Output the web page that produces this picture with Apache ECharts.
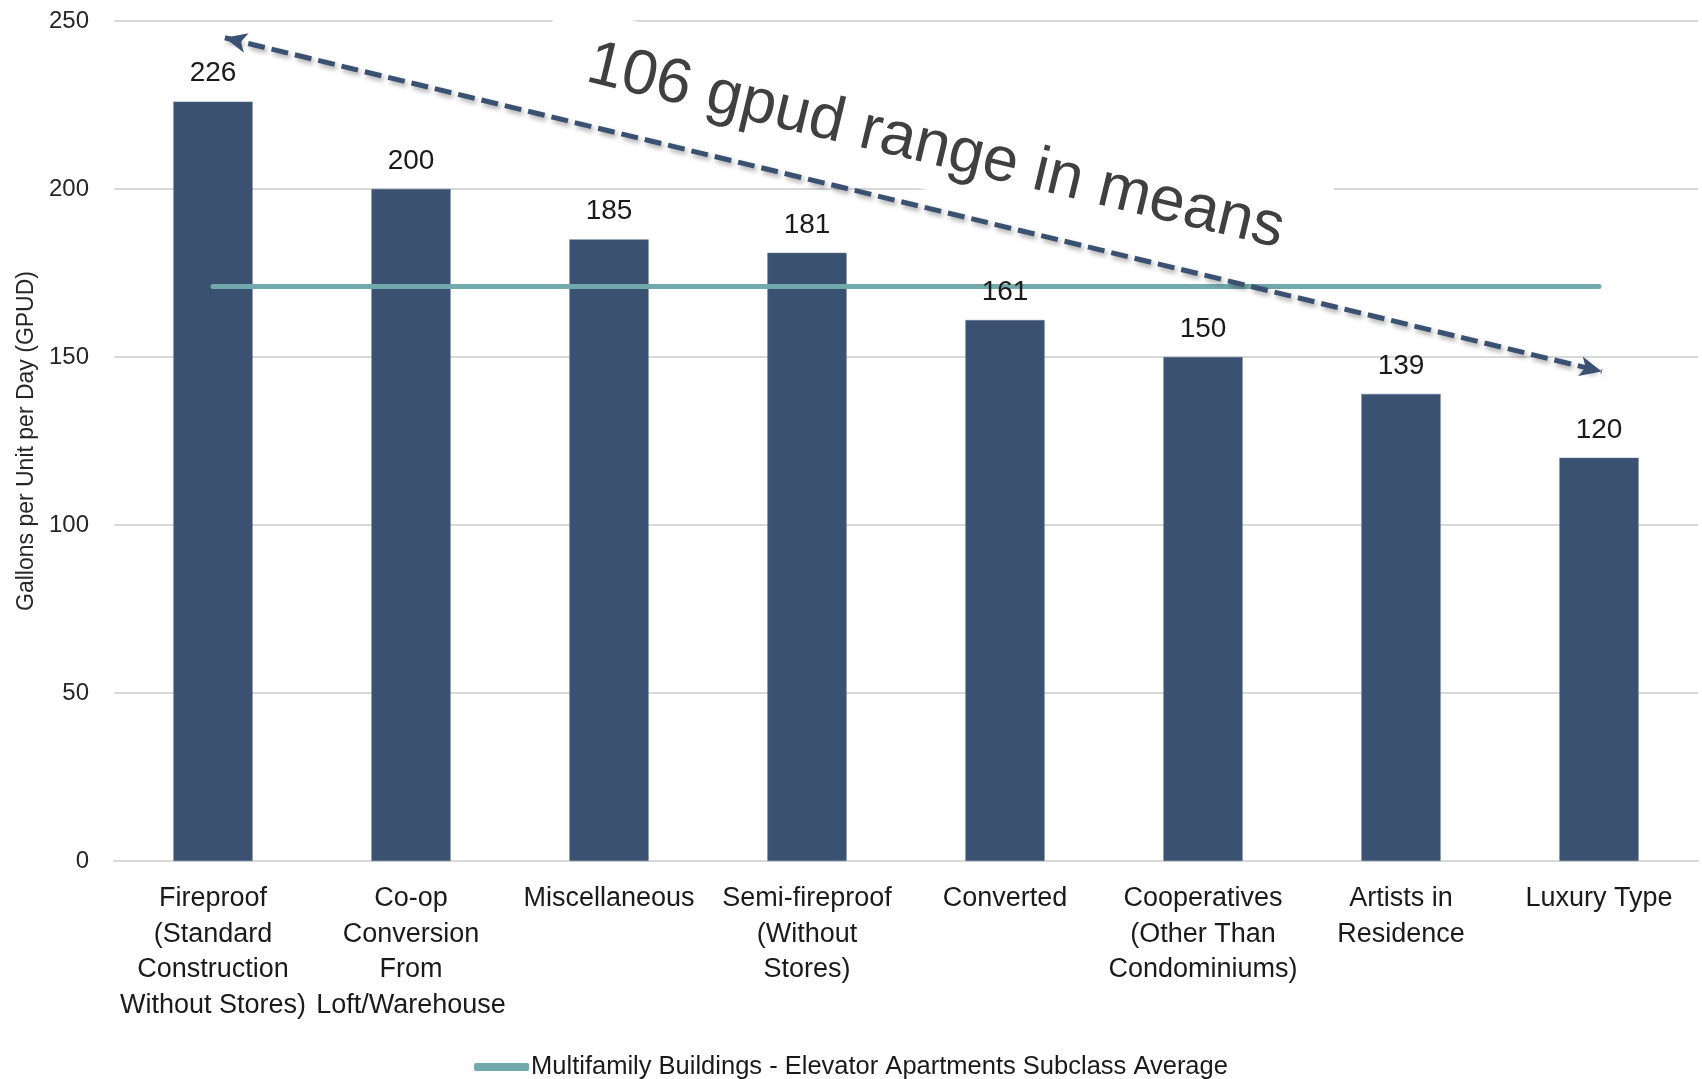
<!DOCTYPE html>
<html>
<head>
<meta charset="utf-8">
<title>Gallons per Unit per Day by Elevator Apartment Type</title>
<script src="https://cdn.jsdelivr.net/npm/echarts@6/dist/echarts.min.js"></script>
<style>
  html, body { margin: 0; padding: 0; background: #ffffff; }
  #chart { width: 1702px; height: 1079px; }
</style>
</head>
<body>
<div id="chart"></div>
<script>
// Building types (tick labels, wrapped as printed)
const categories = [
  'Fireproof\n(Standard\nConstruction\nWithout Stores)',
  'Co-op\nConversion\nFrom\nLoft/Warehouse',
  'Miscellaneous',
  'Semi-fireproof\n(Without\nStores)',
  'Converted',
  'Cooperatives\n(Other Than\nCondominiums)',
  'Artists in\nResidence',
  'Luxury Type'
];

// Mean gallons per unit per day for each type
const gpudValues = [226, 200, 185, 181, 161, 150, 139, 120];

// Subclass average, drawn across the bars
const averageName = 'Multifamily Buildings - Elevator Apartments Subclass Average';
const subclassAverage = 171;

// Value-axis ticks
const yMin = 0;
const yMax = 250;
const yStep = 50;

// Range arrow tips: [position along the category band axis, gpud]
const rangeArrowStart = [0.56, 245];
const rangeArrowEnd = [7.514, 145.7];
const rangeNote = '106 gpud range in means';

const FONT = '"Liberation Sans", Arial, sans-serif';
const BAR_COLOR = '#3a5172';
const AVG_COLOR = '#72a9ac';

const chart = echarts.init(document.getElementById('chart'), null, { renderer: 'canvas' });

chart.setOption({
  animation: false,
  backgroundColor: '#ffffff',
  textStyle: { fontFamily: FONT },
  grid: { left: 114, right: 4, top: 21, bottom: 218, containLabel: false },
  legend: {
    data: [averageName],
    left: 'center',
    top: 1049,
    icon: 'roundRect',
    itemWidth: 55,
    itemHeight: 8,
    itemGap: 0,
    textStyle: { fontFamily: FONT, fontSize: 25.5, color: '#1a1a1a', padding: [0, 0, 0, -3] },
    selectedMode: false
  },
  xAxis: [
    {
      type: 'category',
      data: categories,
      axisLine: { show: true, lineStyle: { color: '#d9d9d9', width: 2 } },
      axisTick: { show: false },
      axisLabel: {
        interval: 0,
        margin: 20,
        fontFamily: FONT,
        fontSize: 27,
        lineHeight: 35.5,
        color: '#1a1a1a',
        align: 'center',
        verticalAlign: 'top'
      }
    },
    {
      // continuous twin of the category axis, used for the average line and arrow
      type: 'value',
      min: 0,
      max: categories.length,
      show: false,
      position: 'bottom'
    }
  ],
  yAxis: {
    type: 'value',
    min: yMin,
    max: yMax,
    interval: yStep,
    name: 'Gallons per Unit per Day (GPUD)',
    nameLocation: 'middle',
    nameGap: 74,
    nameTextStyle: { fontFamily: FONT, fontSize: 23, color: '#262626' },
    axisLine: { show: false },
    axisTick: { show: false },
    axisLabel: { margin: 25, fontFamily: FONT, fontSize: 24, color: '#262626' },
    splitLine: { lineStyle: { color: '#d9d9d9', width: 2 } }
  },
  graphic: [
    {
      type: 'group',
      x: 935,
      y: 141,
      rotation: -13 * Math.PI / 180,
      children: [
        {
          type: 'rect',
          z: 1,
          shape: { x: -399.5, y: -49.5, width: 799, height: 99 },
          style: { fill: '#ffffff' },
          silent: true
        },
        {
          type: 'text',
          z: 1,
          x: 2,
          y: 6,
          rotation: -0.5 * Math.PI / 180,
          style: {
            text: rangeNote,
            x: 0,
            y: 0,
            align: 'center',
            verticalAlign: 'middle',
            font: '63px "Liberation Sans", Arial, sans-serif',
            fill: '#404040'
          },
          silent: true
        }
      ]
    }
  ],
  series: [
    {
      name: 'GPUD',
      type: 'bar',
      data: gpudValues,
      barWidth: '40%',
      z: 2,
      itemStyle: { color: BAR_COLOR, borderColor: '#5b7090', borderWidth: 0.5 },
      silent: true
    },
    {
      name: averageName,
      type: 'line',
      xAxisIndex: 1,
      data: [[0.5, subclassAverage], [categories.length - 0.5, subclassAverage]],
      symbol: 'none',
      z: 3,
      color: AVG_COLOR,
      lineStyle: { color: AVG_COLOR, width: 5, cap: 'round' },
      silent: true
    },
    {
      // value labels, kept above the average line
      name: 'labels',
      type: 'bar',
      data: gpudValues,
      barWidth: '40%',
      barGap: '-100%',
      z: 4,
      itemStyle: { color: 'rgba(0,0,0,0)' },
      label: {
        show: true,
        position: 'top',
        distance: 14,
        fontFamily: FONT,
        fontSize: 28,
        color: '#1a1a1a'
      },
      silent: true
    },
    {
      name: 'range',
      type: 'line',
      xAxisIndex: 1,
      data: [],
      silent: true,
      markLine: {
        silent: true,
        symbol: ['arrow', 'arrow'],
        symbolSize: [15, 22],
        label: { show: false },
        lineStyle: {
          color: BAR_COLOR,
          width: 5,
          type: [17, 7],
          shadowColor: 'rgba(0,0,0,0.35)',
          shadowBlur: 5,
          shadowOffsetX: 2,
          shadowOffsetY: 3
        },
        emphasis: { disabled: true },
        data: [[{ coord: rangeArrowStart }, { coord: rangeArrowEnd }]]
      }
    }
  ]
});
</script>
</body>
</html>
